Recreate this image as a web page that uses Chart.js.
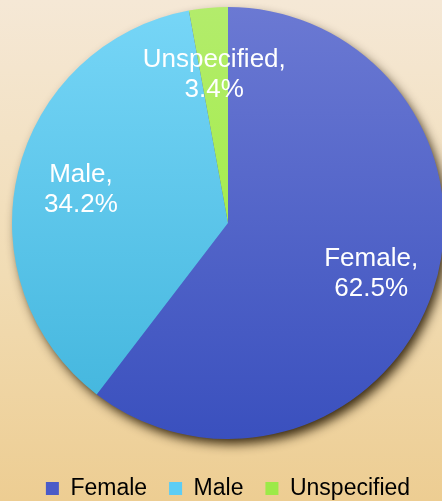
<!DOCTYPE html>
<html>
<head>
<meta charset="utf-8">
<script src="https://cdn.jsdelivr.net/npm/chart.js@4.4.0/dist/chart.umd.min.js"></script>
<style>
  html, body { margin: 0; padding: 0; }
  #wrap {
    width: 442px; height: 501px; overflow: hidden; position: relative;
    background: linear-gradient(to bottom, #f5e8d6 0%, #f1dcb4 55%, #edcd92 100%);
  }
  canvas { display: block; }
</style>
</head>
<body>
<div id="wrap"><canvas id="c" width="446" height="510"></canvas></div>
<script>
// ---- data ----
const categories = ['Female', 'Male', 'Unspecified'];
const sliceShares = [60.4, 36.7, 2.9];          // slice sizes as drawn
const labelPercents = ['62.5%', '34.2%', '3.4%']; // percentages printed on slices

// ---- styles ----
const gradTop = ['#6b79d3', '#77d6f7', '#b3ec6c'];
const gradBottom = ['#3a50be', '#40b4dc', '#98ee30'];
const legendColors = ['#4a5bc8', '#5ccdf5', '#9cea48'];

function sliceFill(ctx) {
  const chart = ctx.chart;
  const area = chart.chartArea;
  const i = ctx.dataIndex;
  if (!area) return gradBottom[i];
  const g = chart.ctx.createLinearGradient(0, area.top, 0, area.bottom);
  g.addColorStop(0, gradTop[i]);
  g.addColorStop(1, gradBottom[i]);
  return g;
}

const shadowPlugin = {
  id: 'pieShadow',
  beforeDatasetsDraw(chart) {
    const arc = chart.getDatasetMeta(0).data[0];
    if (!arc) return;
    const { x, y, outerRadius } = arc.getProps(['x', 'y', 'outerRadius'], true);
    const c = chart.ctx;
    c.save();
    c.shadowColor = 'rgba(35,22,0,0.9)';
    c.shadowBlur = 11;
    c.shadowOffsetX = 4;
    c.shadowOffsetY = 6;
    c.beginPath();
    c.arc(x, y, outerRadius - 1, 0, Math.PI * 2);
    c.fillStyle = '#4455bb';
    c.fill();
    c.restore();
  }
};

const sliceLabels = {
  id: 'sliceLabels',
  afterDatasetsDraw(chart) {
    const meta = chart.getDatasetMeta(0);
    const c = chart.ctx;
    c.save();
    c.fillStyle = '#ffffff';
    c.font = '26px "Liberation Sans", Arial, sans-serif';
    c.textAlign = 'center';
    c.textBaseline = 'alphabetic';
    meta.data.forEach((arc, i) => {
      const p = arc.getProps(['x', 'y', 'startAngle', 'endAngle', 'outerRadius'], true);
      const mid = (p.startAngle + p.endAngle) / 2;
      const cx = p.x + Math.cos(mid) * p.outerRadius * 0.70;
      const cy = p.y + Math.sin(mid) * p.outerRadius * 0.70;
      c.fillText(categories[i] + ',', cx, cy - 5.7);
      c.fillText(labelPercents[i], cx, cy + 24.3);
    });
    c.restore();
  }
};

new Chart(document.getElementById('c'), {
  type: 'pie',
  data: {
    labels: categories,
    datasets: [{
      data: sliceShares,
      backgroundColor: sliceFill,
      borderWidth: 0,
      hoverOffset: 0
    }]
  },
  options: {
    responsive: false,
    animation: false,
    layout: { padding: { top: 6, left: 12, right: 2, bottom: 0 } },
    plugins: {
      tooltip: { enabled: false },
      legend: {
        position: 'bottom',
        title: { display: true, text: '', padding: 0, font: { size: 10, lineHeight: 1.5 } },
        labels: {
          boxWidth: 13,
          boxHeight: 13,
          padding: 22,
          color: '#000000',
          font: { family: '"Liberation Sans", Arial, sans-serif', size: 23 },
          generateLabels(chart) {
            const base = Chart.overrides.pie.plugins.legend.labels.generateLabels(chart);
            return base.map((it, i) => Object.assign(it, {
              fillStyle: legendColors[i], strokeStyle: legendColors[i], lineWidth: 0
            }));
          }
        }
      }
    }
  },
  plugins: [shadowPlugin, sliceLabels]
});
</script>
</body>
</html>
